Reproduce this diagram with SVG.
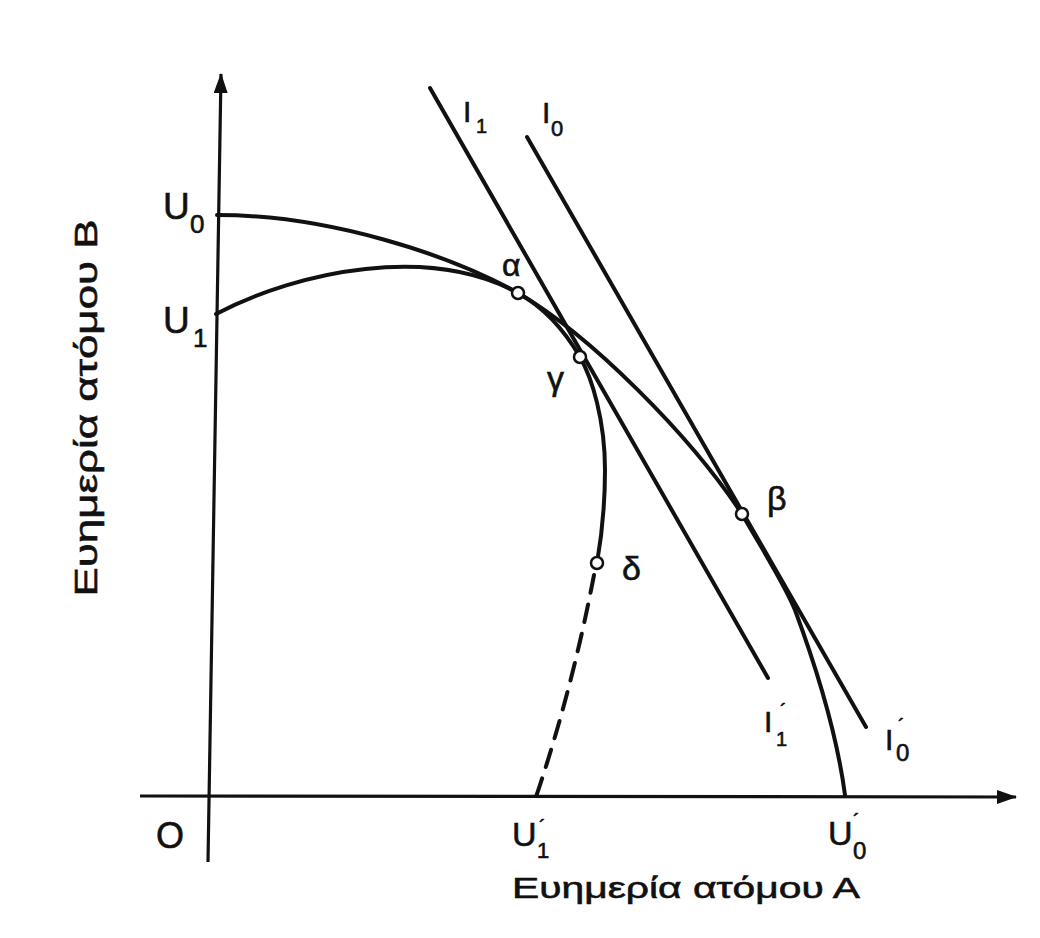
<svg xmlns="http://www.w3.org/2000/svg" width="1040" height="938" viewBox="0 0 1040 938">
<style>
.c{fill:none;stroke:#111;stroke-width:4;stroke-linecap:round;stroke-linejoin:round}
.ax{fill:none;stroke:#111;stroke-width:3.2}
.t{font-family:"Liberation Sans","DejaVu Sans",sans-serif;fill:#111;stroke:#111;stroke-width:0.6}
.pt{fill:#fff;stroke:#111;stroke-width:2.5}
</style>
<defs>
<marker id="ah" viewBox="0 0 20 14" refX="19" refY="7" markerWidth="20" markerHeight="14" markerUnits="userSpaceOnUse" orient="auto">
<path d="M0,0 L20,7 L0,14 Z" fill="#111"/>
</marker>
</defs>
<rect width="1040" height="938" fill="#fff"/>
<g id="axes">
<line class="ax" x1="208" y1="862" x2="221" y2="74" marker-end="url(#ah)"/>
<line class="ax" x1="140" y1="796" x2="1016" y2="797" marker-end="url(#ah)"/>
</g>
<g id="connectors">
<path id="U0curve" class="c" d="M217,215 C330,215 450,255 518,293 C590,335 690,435 742,514 C765,554 785,585 795,610 C808,645 835,720 845,795"/>
<path id="U1curve" class="c" d="M216,314 C300,270 430,245 518,293 C545,308 566,333 580,357 C592,378 605,420 605,470 C605,510 601,540 597,563"/>
<path id="U1dash" class="c" d="M594,575 Q572,690 536,797" stroke-dasharray="18,12" stroke-width="4.5"/>
<line id="I1" class="c" x1="430" y1="88" x2="768" y2="678"/>
<line id="I0" class="c" x1="527" y1="137" x2="866" y2="727"/>
</g>
<g id="pt-alpha"><circle class="pt" cx="518" cy="293" r="6"/><text class="t" x="502" y="276" font-size="32">α</text></g>
<g id="pt-gamma"><circle class="pt" cx="580" cy="357" r="6"/><text class="t" x="547" y="390" font-size="34">γ</text></g>
<g id="pt-beta"><circle class="pt" cx="742" cy="514" r="6"/><text class="t" x="767" y="510" font-size="34">β</text></g>
<g id="pt-delta"><circle class="pt" cx="597" cy="563" r="6"/><text class="t" x="622" y="580" font-size="34">δ</text></g>
<g id="labels">
<text class="t" x="163" y="219" font-size="37">U</text><text class="t" x="190" y="233" font-size="26">0</text>
<text class="t" x="163" y="333" font-size="37">U</text><text class="t" x="193" y="347" font-size="26">1</text>
<text class="t" x="156" y="848" font-size="36">O</text>
<text class="t" x="512" y="846" font-size="34">U</text><text class="t" x="537" y="858" font-size="22">1</text><text class="t" x="539" y="834" font-size="20">´</text>
<text class="t" x="828" y="845" font-size="34">U</text><text class="t" x="853" y="859" font-size="24">0</text><text class="t" x="853" y="828" font-size="20">´</text>
<text class="t" x="463" y="122" font-size="30">I</text><text class="t" x="476" y="133" font-size="20">1</text>
<text class="t" x="542" y="123" font-size="30">I</text><text class="t" x="551" y="136" font-size="22">0</text>
<text class="t" x="764" y="732" font-size="30">I</text><text class="t" x="776" y="746" font-size="20">1</text><text class="t" x="780" y="718" font-size="20">´</text>
<text class="t" x="885" y="750" font-size="30">I</text><text class="t" x="896" y="761" font-size="24">0</text><text class="t" x="898" y="733" font-size="20">´</text>
<text class="t" x="512" y="898" font-size="30" textLength="348" lengthAdjust="spacingAndGlyphs">Ευημερία ατόμου Α</text>
<text class="t" transform="translate(97,408) rotate(-90)" x="0" y="0" font-size="31" text-anchor="middle" textLength="377" lengthAdjust="spacingAndGlyphs">Ευημερία ατόμου Β</text>
</g>
</svg>
